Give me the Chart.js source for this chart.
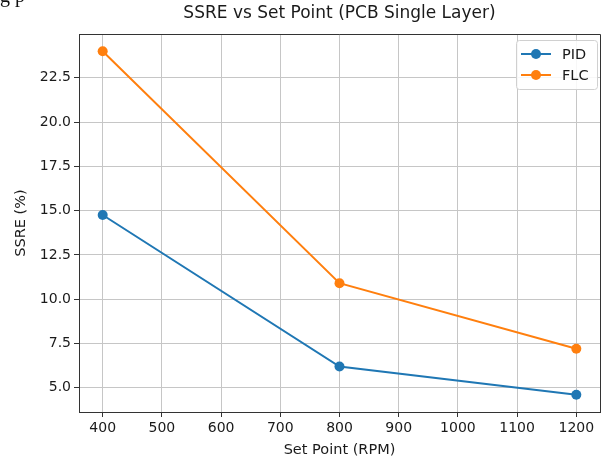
<!DOCTYPE html>
<html>
<head>
<meta charset="utf-8">
<title>SSRE vs Set Point</title>
<script src="https://cdn.jsdelivr.net/npm/chart.js@4.4.0/dist/chart.umd.min.js"></script>
<style>
    html, body { margin: 0; padding: 0; background: #fff; }
    #wrap { width: 605px; height: 457px; position: relative; overflow: hidden; }
</style>
</head>
<body>
<div id="wrap"><canvas id="ssreChart" width="605" height="457"></canvas></div>
<script>
// data
const setPoints = [400, 800, 1200];
const pidValues = [14.75, 6.2, 4.6];
const flcValues = [24.0, 10.9, 7.2];
const xTicks = [400, 500, 600, 700, 800, 900, 1000, 1100, 1200];
const yTicks = [5.0, 7.5, 10.0, 12.5, 15.0, 17.5, 20.0, 22.5];

const colors = { pid: "#1f77b4", flc: "#ff7f0e", grid: "#c6c6c6", frame: "#333333", text: "#1a1a1a" };
const font = "'DejaVu Sans', sans-serif";

// matplotlib style 5% margins around the data
const allY = pidValues.concat(flcValues);
const yLo = Math.min(...allY), yHi = Math.max(...allY);
const yPad = (yHi - yLo) * 0.05;
const xPad = (setPoints[setPoints.length - 1] - setPoints[0]) * 0.05;

Chart.defaults.font.family = font;
Chart.defaults.font.size = 14;
Chart.defaults.color = colors.text;

/*** Frame, title, axis labels, legend ***/
const decorations = {
    id: "decorations",
    afterDraw(chart) {
        const { ctx, chartArea: a } = chart;
        ctx.save();

        // top / right frame lines
        ctx.strokeStyle = colors.frame;
        ctx.lineWidth = 1;
        ctx.beginPath();
        ctx.moveTo(a.left, a.top + 0.5);
        ctx.lineTo(a.right + 0.5, a.top + 0.5);
        ctx.lineTo(a.right + 0.5, a.bottom);
        ctx.stroke();

        // title
        ctx.fillStyle = colors.text;
        ctx.textAlign = "center";
        ctx.textBaseline = "middle";
        ctx.font = "17px " + font;
        ctx.fillText("SSRE vs Set Point (PCB Single Layer)", (a.left + a.right) / 2, 14);

        // axis labels
        ctx.font = "14.5px " + font;
        ctx.fillText("Set Point (RPM)", (a.left + a.right) / 2, 450);
        ctx.save();
        ctx.translate(21, (a.top + a.bottom) / 2);
        ctx.rotate(-Math.PI / 2);
        ctx.fillText("SSRE (%)", 0, 0);
        ctx.restore();

        // stray text from the page above the figure
        ctx.font = "20px 'Liberation Serif', serif";
        ctx.textAlign = "left";
        ctx.textBaseline = "alphabetic";
        ctx.fillStyle = "#111";
        ctx.fillText("g p", 0, 2);

        // legend
        const bx = 516.5, by = 40.5, bw = 81, bh = 49;
        ctx.fillStyle = "rgba(255,255,255,0.85)";
        ctx.strokeStyle = "#d0d0d0";
        ctx.beginPath();
        ctx.roundRect(bx, by, bw, bh, 3);
        ctx.fill();
        ctx.stroke();

        chart.data.datasets.forEach((ds, i) => {
            const y = 54 + i * 21;
            ctx.strokeStyle = ds.borderColor;
            ctx.lineWidth = 2;
            ctx.beginPath();
            ctx.moveTo(521, y);
            ctx.lineTo(551, y);
            ctx.stroke();
            ctx.fillStyle = ds.borderColor;
            ctx.beginPath();
            ctx.arc(536, y, 5, 0, Math.PI * 2);
            ctx.fill();
            ctx.fillStyle = colors.text;
            ctx.font = "14.5px " + font;
            ctx.textBaseline = "middle";
            ctx.fillText(ds.label, 562, y + 1);
        });

        ctx.restore();
    }
};

const makeSeries = (label, values, color) => ({
    label,
    data: setPoints.map((x, i) => ({ x, y: values[i] })),
    borderColor: color,
    backgroundColor: color,
    borderWidth: 2,
    pointRadius: 5,
    pointBorderWidth: 0,
    pointBackgroundColor: color,
    tension: 0,
    fill: false
});

new Chart(document.getElementById("ssreChart"), {
    type: "line",
    data: {
        datasets: [
            makeSeries("PID", pidValues, colors.pid),
            makeSeries("FLC", flcValues, colors.flc)
        ]
    },
    options: {
        responsive: false,
        animation: false,
        layout: { padding: { left: 0, right: 3, top: 34, bottom: 0 } },
        plugins: { legend: { display: false }, title: { display: false }, tooltip: { enabled: false } },
        scales: {
            x: {
                type: "linear",
                min: setPoints[0] - xPad,
                max: setPoints[setPoints.length - 1] + xPad,
                afterBuildTicks: scale => { scale.ticks = xTicks.map(v => ({ value: v })); },
                afterFit: scale => { scale.height = 45; },
                ticks: { padding: 3, maxRotation: 0, autoSkip: false, callback: v => String(v) },
                grid: { color: colors.grid, tickColor: colors.frame, tickLength: 5, lineWidth: 1 },
                border: { display: true, color: colors.frame, width: 1 }
            },
            y: {
                type: "linear",
                min: yLo - yPad,
                max: yHi + yPad,
                afterBuildTicks: scale => { scale.ticks = yTicks.map(v => ({ value: v })); },
                afterFit: scale => { scale.width = 79; },
                ticks: { padding: 3, autoSkip: false, callback: v => Number(v).toFixed(1) },
                grid: { color: colors.grid, tickColor: colors.frame, tickLength: 5, lineWidth: 1 },
                border: { display: true, color: colors.frame, width: 1 }
            }
        }
    },
    plugins: [decorations]
});
</script>
</body>
</html>
